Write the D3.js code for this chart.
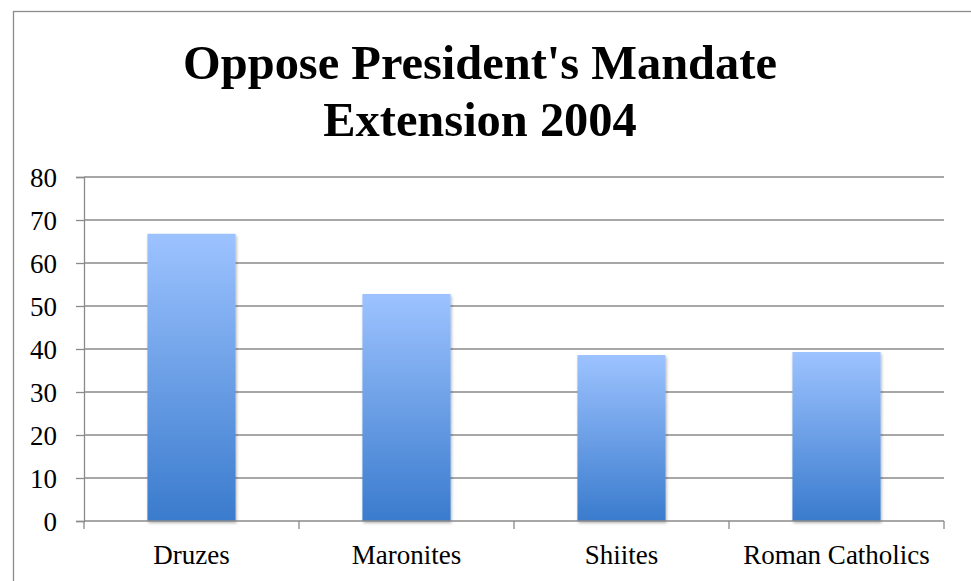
<!DOCTYPE html>
<html>
<head>
<meta charset="utf-8">
<script src="https://cdn.jsdelivr.net/npm/d3@7"></script>
<style>
  html, body { margin: 0; padding: 0; background: #fff; }
  svg { display: block; }
</style>
</head>
<body>
<svg id="chart" width="971" height="581"></svg>
<script>
const titleLines = ["Oppose President's Mandate", "Extension 2004"];
const categories = ["Druzes", "Maronites", "Shiites", "Roman Catholics"];
const values = [66.8, 52.8, 38.6, 39.3];
const yTicks = [0, 10, 20, 30, 40, 50, 60, 70, 80];

const W = 971, H = 581;
const svg = d3.select("#chart");
const serif = "'Liberation Serif', 'Times New Roman', serif";

const defs = svg.append("defs");
const grad = defs.append("linearGradient")
  .attr("id", "barGrad").attr("x1", 0).attr("y1", 0).attr("x2", 0).attr("y2", 1);
grad.append("stop").attr("offset", "0%").attr("stop-color", "#9dc3ff");
grad.append("stop").attr("offset", "100%").attr("stop-color", "#3a7bcd");

const shadow = defs.append("filter").attr("id", "shadow")
  .attr("x", "-10%").attr("y", "-5%").attr("width", "125%").attr("height", "115%");
shadow.append("feDropShadow").attr("dx", 1).attr("dy", 2)
  .attr("stdDeviation", 1.8).attr("flood-color", "#000").attr("flood-opacity", 0.3);

// outer chart frame (extends beyond the visible area on right/bottom)
svg.append("rect")
  .attr("x", 13.5).attr("y", 11.5).attr("width", W + 20).attr("height", H + 20)
  .attr("fill", "none").attr("stroke", "#8c8c8c").attr("stroke-width", 1.3);

const plot = { left: 84, right: 944, top: 177, bottom: 521 };

const x = d3.scaleBand().domain(categories)
  .range([plot.left, plot.right]).paddingInner(0.59).paddingOuter(0.295);
const xEdges = d3.scaleLinear().domain([0, categories.length]).range([plot.left, plot.right]);
const y = d3.scaleLinear().domain([0, 80]).range([plot.bottom, plot.top]);

// gridlines
svg.append("g").selectAll("line").data(yTicks.filter(d => d > 0)).join("line")
  .attr("x1", plot.left).attr("x2", plot.right)
  .attr("y1", d => y(d)).attr("y2", d => y(d))
  .attr("stroke", "#8a8a8a").attr("stroke-width", 1.3);

// y axis
const yAxis = svg.append("g").attr("transform", `translate(${plot.left},0)`)
  .call(d3.axisLeft(y).tickValues(yTicks).tickSize(8).tickPadding(19));
yAxis.select(".domain").attr("stroke", "#8a8a8a").attr("stroke-width", 1.3);
yAxis.selectAll(".tick line").attr("stroke", "#8a8a8a").attr("stroke-width", 1.3);
yAxis.selectAll(".tick text").attr("font-family", serif).attr("font-size", 27)
  .attr("fill", "#000").attr("dy", "0.34em");

// bars
svg.append("g").selectAll("rect").data(categories).join("rect")
  .attr("x", d => x(d)).attr("width", x.bandwidth())
  .attr("y", (d, i) => y(values[i]))
  .attr("height", (d, i) => y(0) - y(values[i]))
  .attr("fill", "url(#barGrad)")
  .attr("filter", "url(#shadow)");

// x axis
const xg = svg.append("g");
xg.append("line").attr("x1", plot.left).attr("x2", plot.right)
  .attr("y1", y(0)).attr("y2", y(0))
  .attr("stroke", "#8a8a8a").attr("stroke-width", 1.3);
xg.selectAll("line.tk").data(d3.range(categories.length + 1)).join("line")
  .attr("class", "tk")
  .attr("x1", d => xEdges(d)).attr("x2", d => xEdges(d))
  .attr("y1", y(0)).attr("y2", y(0) + 8)
  .attr("stroke", "#8a8a8a").attr("stroke-width", 1.3);
xg.selectAll("text").data(categories).join("text")
  .attr("x", d => x(d) + x.bandwidth() / 2).attr("y", 564)
  .attr("text-anchor", "middle")
  .attr("font-family", serif).attr("font-size", 27).attr("fill", "#000")
  .text(d => d);

// title
const t = svg.append("g").selectAll("text").data(titleLines).join("text")
  .attr("x", 480).attr("y", (d, i) => 79 + i * 57)
  .attr("text-anchor", "middle")
  .attr("font-family", serif).attr("font-weight", "bold").attr("font-size", 50)
  .attr("fill", "#000")
  .text(d => d);
const w0 = t.nodes()[0].getComputedTextLength();
const fs = 50 * 594 / w0;
t.attr("font-size", fs);
</script>
</body>
</html>
